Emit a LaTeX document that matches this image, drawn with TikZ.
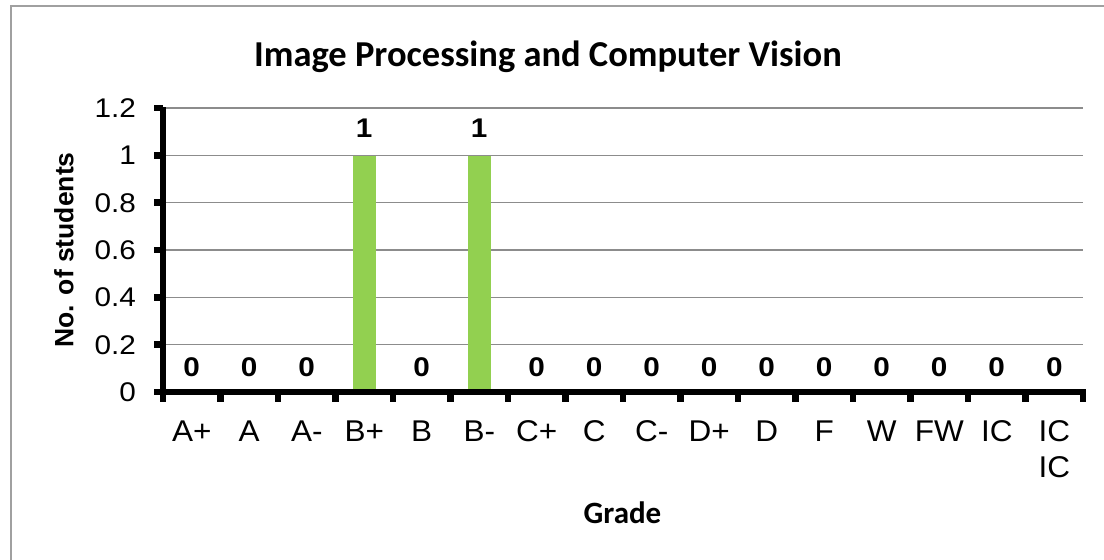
\documentclass[tikz,border=0pt]{standalone}
\usepackage{fontspec}
\usepackage{graphicx}
\setmainfont{Liberation Sans}
\newfontfamily\calib{Carlito}
\definecolor{bargreen}{HTML}{92D050}
\definecolor{gridgray}{HTML}{8C8C8C}
\definecolor{framegray}{HTML}{A0A0A0}
\newcommand{\wide}[1]{\scalebox{1.1}[1]{#1}}
\begin{document}
\begin{tikzpicture}[x=1pt,y=-1pt,
  gridline/.style={gridgray,line width=1.6pt},
  axisline/.style={black,line width=6.5pt},
  tickline/.style={black,line width=6.5pt},
  bar/.style={fill=bargreen,draw=none},
  ticklab/.style={inner sep=0pt,anchor=base east,font=\fontsize{27}{30}\selectfont},
  catlab/.style={inner sep=0pt,anchor=base,align=center,font=\fontsize{30}{36}\selectfont},
  datalab/.style={inner sep=0pt,anchor=base,font=\fontsize{27}{30}\selectfont\bfseries},
  titlelab/.style={inner sep=0pt,anchor=base,font=\calib\fontsize{36.5}{40}\selectfont\bfseries},
  axtitle/.style={inner sep=0pt,font=\calib\fontsize{31}{36}\selectfont\bfseries}
]
\useasboundingbox (0,0) rectangle (1104,560);
\clip (0,0) rectangle (1104,560);
\fill[white] (0,0) rectangle (1104,560);
\draw[framegray,line width=1.5pt] (11,6) rectangle (1130,590);

% gridlines
\foreach \v in {1,...,6}{
  \draw[gridline] (163,{392-47.33*\v}) -- (1083,{392-47.33*\v});
}
% bars
\fill[bar] (352.75,156) rectangle (375.75,392);
\fill[bar] (467.75,156) rectangle (490.75,392);
% axes
\draw[axisline] (163,107) -- (163,392) -- (1086,392);
\foreach \v in {0,...,6}{
  \draw[tickline] (154,{392-47.33*\v}) -- (163,{392-47.33*\v});
}
\foreach \i in {0,...,16}{
  \draw[tickline] ({163+57.5*\i},392) -- ({163+57.5*\i},401.5);
}
% y tick labels
\foreach \v/\t in {0/0,1/0.2,2/0.4,3/0.6,4/0.8,5/1,6/1.2}{
  \node[ticklab] (yt\v) at (136,{392-47.33*\v+9.5}) {\wide{\t}};
}
% category labels and data labels
\foreach \i/\g in {1/A+,2/A,3/A-,4/B+,5/B,6/B-,7/C+,8/C,9/C-,10/D+,11/D,12/F,13/W,14/FW,15/IC}{
  \node[catlab] (xl\i) at ({163+57.5*(\i-0.5)},441) {\scalebox{1.05}[1]{\g}};
}
\node[catlab] (xl16) at ({163+57.5*15.5},477) {\scalebox{1.05}[1]{IC}\\\scalebox{1.05}[1]{IC}};
\foreach \i in {1,2,3,5,7,8,9,10,11,12,13,14,15,16}{
  \node[datalab] (dl\i) at ({163+57.5*(\i-0.5)},376) {\wide{0}};
}
\foreach \i in {4,6}{
  \node[datalab] (dl\i) at ({163+57.5*(\i-0.5)},137) {\wide{1}};
}
% titles
\node[titlelab] (title) at (548,66) {Image Processing and Computer Vision};
\node[inner sep=0pt,rotate=90,font=\fontsize{26.5}{30}\selectfont\bfseries] (ytitle) at (64,250) {No. of students};
\node[axtitle,anchor=base] (xtitle) at (622.5,523) {Grade};
\end{tikzpicture}
\end{document}
